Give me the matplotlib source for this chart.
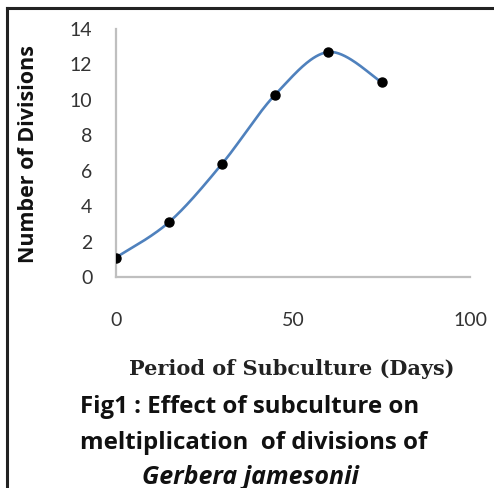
import numpy as np
import matplotlib
matplotlib.use("Agg")
import matplotlib.pyplot as plt
from matplotlib.lines import Line2D

days = [0, 15, 30, 45, 60, 75]
divisions = [1.1, 3.1, 6.4, 10.3, 12.7, 11.0]
xticks = [0, 50, 100]
yticks = [0, 2, 4, 6, 8, 10, 12, 14]
xlabel = "Period of Subculture (Days)"
ylabel = "Number of Divisions"
caption1 = "Fig1 : Effect of subculture on"
caption2 = "meltiplication  of divisions of"
caption3 = "Gerbera jamesonii"

W, H = 494, 488
fig = plt.figure(figsize=(W / 100, H / 100), dpi=100)
ax = fig.add_axes([116 / W, 1 - 277 / H, (470 - 116) / W, (277 - 29) / H])
ax.set_xlim(0, 100)
ax.set_ylim(0, 14)
ax.set_xticks(xticks)
ax.set_yticks(yticks)
for s in ["top", "right"]:
    ax.spines[s].set_visible(False)
for s in ["left", "bottom"]:
    ax.spines[s].set_color("#BFBFBF")
    ax.spines[s].set_linewidth(1.6)
ax.tick_params(axis="both", length=0, labelsize=14, labelcolor="#333333")
ax.tick_params(axis="y", pad=17)
ax.tick_params(axis="x", pad=25)
for lab in ax.get_xticklabels() + ax.get_yticklabels():
    lab.set_fontfamily("Lato")

# smooth curve (Excel-like Catmull-Rom Bezier) in display space
fig.canvas.draw()
pts = ax.transData.transform(np.column_stack([days, divisions]))
n = len(pts)
curve = []
for i in range(n - 1):
    p0 = pts[max(i - 1, 0)]
    p1 = pts[i]
    p2 = pts[i + 1]
    p3 = pts[min(i + 2, n - 1)]
    c1 = p1 + (p2 - p0) / 6.0
    c2 = p2 - (p3 - p1) / 6.0
    t = np.linspace(0, 1, 40)[:, None]
    seg = ((1 - t) ** 3) * p1 + 3 * ((1 - t) ** 2) * t * c1 + 3 * (1 - t) * t ** 2 * c2 + t ** 3 * p2
    curve.append(seg)
curve = np.vstack(curve)
curve_data = ax.transData.inverted().transform(curve)
ax.plot(curve_data[:, 0], curve_data[:, 1], color="#4F81BD", lw=1.9, solid_capstyle="round", zorder=2)
ax.plot(days, divisions, linestyle="none", marker="o", markersize=6.5, color="black", zorder=3)

fig.text(29 / W, 1 - 154 / H, ylabel, rotation=90, ha="center", va="center",
         fontsize=15.5, fontweight="bold", family="Open Sans", color="#111111")
fig.text(292 / W, 1 - 369 / H, xlabel, ha="center", va="center",
         fontsize=15, fontweight="bold", family="DejaVu Serif", color="#222222")
fig.text(80 / W, 1 - 407 / H, caption1, ha="left", va="center",
         fontsize=17.3, fontweight="bold", family="Open Sans", color="#111111")
fig.text(80 / W, 1 - 443 / H, caption2, ha="left", va="center",
         fontsize=17.3, fontweight="bold", family="Open Sans", color="#111111")
fig.text(250 / W, 1 - 477 / H, caption3, ha="center", va="center",
         fontsize=18, fontweight="bold", style="italic", family="Open Sans", color="#111111")

# frame border (top and left)
fig.add_artist(Line2D([7 / W, 1.0], [1 - 7.5 / H, 1 - 7.5 / H], transform=fig.transFigure,
                      color="#222222", lw=2.2))
fig.add_artist(Line2D([7 / W, 7 / W], [1 - 7.5 / H, 0.0], transform=fig.transFigure,
                      color="#222222", lw=2.2))

fig.savefig("out.png", dpi=100)
